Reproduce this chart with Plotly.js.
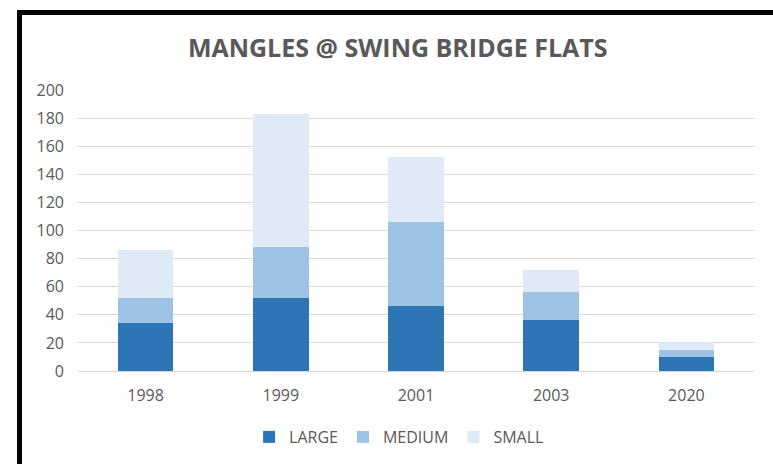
<!DOCTYPE html>
<html>
<head>
<meta charset="utf-8">
<script src="https://cdn.plot.ly/plotly-3.0.1.min.js"></script>
<style>
  html, body { margin: 0; padding: 0; background: #fff; }
  #wrap { position: relative; width: 773px; height: 464px; overflow: hidden; }
  #chart { position: absolute; left: 0; top: 0; width: 773px; height: 464px; }
  .frameTop { position: absolute; left: 17px; top: 10px; width: 756px; height: 5px; background: #000; pointer-events: none; }
  .frameLeft { position: absolute; left: 17px; top: 10px; width: 5px; height: 454px; background: #000; pointer-events: none; }
</style>
</head>
<body>
<div id="wrap">
  <div id="chart"></div>
  <div class="frameTop"></div>
  <div class="frameLeft"></div>
</div>
<script>
const years = ['1998', '1999', '2001', '2003', '2020'];
const large = [34, 52, 46, 36, 10];
const medium = [18, 36, 60, 20, 5];
const small = [34, 95, 46, 16, 6];
const seriesNames = ['LARGE', 'MEDIUM', 'SMALL'];
const colors = ['#2E75B6', '#9DC3E6', '#DEEBF7'];
const yTicks = [0, 20, 40, 60, 80, 100, 120, 140, 160, 180, 200];

const font = "'Open Sans', 'Noto Sans', sans-serif";
const traces = [large, medium, small].map((vals, i) => ({
  type: 'bar',
  x: years,
  y: vals,
  name: seriesNames[i],
  marker: { color: colors[i], line: { width: 0 } },
  hoverinfo: 'x+y+name'
}));

const layout = {
  width: 773,
  height: 464,
  barmode: 'stack',
  bargap: 0.59,
  paper_bgcolor: '#ffffff',
  plot_bgcolor: '#ffffff',
  margin: { l: 78, r: 19, t: 90, b: 93 },
  title: {
    text: '<b>MANGLES @ SWING BRIDGE FLATS</b>',
    font: { family: font, size: 25, color: '#595959' },
    x: 0.473, xref: 'paper', xanchor: 'center',
    y: 1 - 48 / 464, yref: 'container', yanchor: 'middle'
  },
  xaxis: {
    type: 'category',
    showgrid: false,
    showline: false,
    zeroline: false,
    ticks: '',
    tickfont: { family: font, size: 16, color: '#595959' },
    ticklabelstandoff: 13
  },
  yaxis: {
    range: [0, 200],
    tickvals: yTicks,
    ticktext: yTicks.map(String),
    showgrid: true,
    gridcolor: '#D9D9D9',
    gridwidth: 1,
    zeroline: true,
    zerolinecolor: '#D9D9D9',
    zerolinewidth: 1,
    showline: false,
    ticks: '',
    tickfont: { family: font, size: 16, color: '#595959' },
    ticklabelstandoff: 13,
    fixedrange: true
  },
  legend: {
    orientation: 'h',
    x: 0.475, xanchor: 'center',
    y: 1 - 437 / 464, yref: 'container', yanchor: 'middle',
    font: { family: font, size: 16, color: '#595959' },
    traceorder: 'normal',
    itemwidth: 30
  },
  showlegend: true
};

Plotly.newPlot('chart', traces, layout, { displayModeBar: false, staticPlot: true });
</script>
</body>
</html>
